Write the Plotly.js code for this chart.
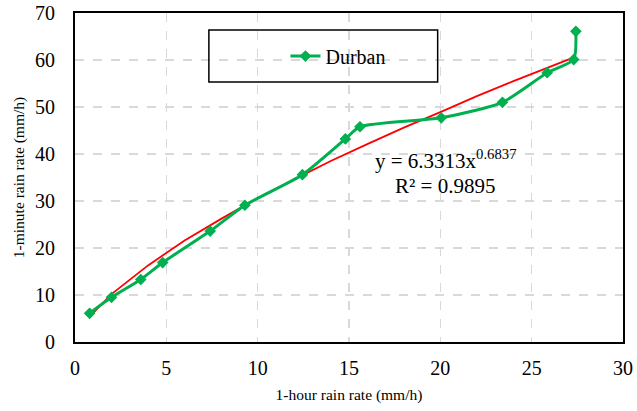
<!DOCTYPE html>
<html>
<head>
<meta charset="utf-8">
<script src="https://cdn.plot.ly/plotly-3.0.1.min.js"></script>
<style>html,body{margin:0;padding:0;background:#fff;}#chart{width:637px;height:411px;}</style>
</head>
<body>
<div id="chart"></div>
<script>
// 1-hour rain rate (mm/h) vs 1-minute rain rate (mm/h), Durban
const hourRate = [0.8, 2.0, 3.6, 4.8, 7.4, 9.3, 12.45, 14.8, 15.6, 20.05, 23.4, 25.85, 27.3, 27.42];
const minuteRate = [6.1, 9.5, 13.3, 16.9, 23.6, 29.1, 35.6, 43.2, 45.8, 47.7, 51.0, 57.3, 60.1, 66.1];
// Power trendline as drawn
const trendX = [0.8, 2, 4, 6, 8, 10, 12, 14, 16, 18, 20, 22, 24, 26, 27.42];
const trendY = [5.4, 10.2, 16.3, 21.6, 26.2, 30.6, 34.6, 38.5, 42.1, 45.6, 48.9, 52.3, 55.5, 58.6, 60.7];
const seriesName = "Durban";
const eqText = "y = 6.3313x<sup>0.6837</sup>";
const r2Text = "R² = 0.9895";
const xTitle = "1-hour rain rate (mm/h)";
const yTitle = "1-minute rain rate (mm/h)";
const xTicks = [0, 5, 10, 15, 20, 25, 30];
const yTicks = [0, 10, 20, 30, 40, 50, 60, 70];

const font = "Liberation Serif";
const green = "#00B050";

const traces = [
  {
    x: trendX, y: trendY, type: "scatter", mode: "lines",
    line: {color: "#FF0000", width: 1.8}, showlegend: false, hoverinfo: "skip"
  },
  {
    x: hourRate, y: minuteRate, type: "scatter", mode: "lines+markers", name: seriesName,
    line: {color: green, width: 3, shape: "spline", smoothing: 0.6},
    marker: {symbol: "diamond", size: 9, color: green}
  }
];

const layout = {
  width: 637, height: 411,
  margin: {l: 75, r: 13.5, t: 13, b: 69},
  paper_bgcolor: "#fff", plot_bgcolor: "#fff",
  font: {family: font, color: "#000"},
  showlegend: true,
  legend: {
    x: 0.384, y: 0.869, xanchor: "left", yanchor: "middle",
    bgcolor: "rgba(0,0,0,0)", borderwidth: 0,
    font: {family: font, size: 20, color: "#000"}
  },
  xaxis: {
    range: [0, 30], tickvals: xTicks, ticktext: xTicks.map(String),
    showgrid: true, gridcolor: "#d9d9d9", gridwidth: 1.5, griddash: "dash",
    zeroline: false, showline: true, linecolor: "#000", linewidth: 2, mirror: true,
    ticks: "outside", ticklen: 7, tickcolor: "rgba(0,0,0,0)",
    tickfont: {family: font, size: 20, color: "#000"},
    title: {text: xTitle, font: {family: font, size: 15.5, color: "#000"}, standoff: 11},
    automargin: false
  },
  yaxis: {
    range: [0, 70], tickvals: yTicks, ticktext: yTicks.map(String),
    showgrid: true, gridcolor: "#d9d9d9", gridwidth: 1.5, griddash: "dash",
    zeroline: false, showline: true, linecolor: "#000", linewidth: 2, mirror: true,
    ticks: "outside", ticklen: 14, tickcolor: "rgba(0,0,0,0)",
    tickfont: {family: font, size: 20, color: "#000"},
    title: {text: yTitle, font: {family: font, size: 15.5, color: "#000"}, standoff: 7},
    automargin: false
  },
  shapes: [
    {type: "rect", xref: "paper", yref: "paper", x0: 0.2443, x1: 0.6618, y0: 0.790, y1: 0.948,
     line: {color: "#000", width: 1.5}, fillcolor: "rgba(0,0,0,0)"}
  ],
  annotations: [
    {xref: "paper", yref: "paper", x: 0.676, y: 0.556, xanchor: "center", yanchor: "middle",
     text: eqText, showarrow: false, font: {family: font, size: 21, color: "#000"}},
    {xref: "paper", yref: "paper", x: 0.675, y: 0.474, xanchor: "center", yanchor: "middle",
     text: r2Text, showarrow: false, font: {family: font, size: 21, color: "#000"}}
  ]
};

Plotly.newPlot("chart", traces, layout, {displayModeBar: false, staticPlot: true});
</script>
</body>
</html>
